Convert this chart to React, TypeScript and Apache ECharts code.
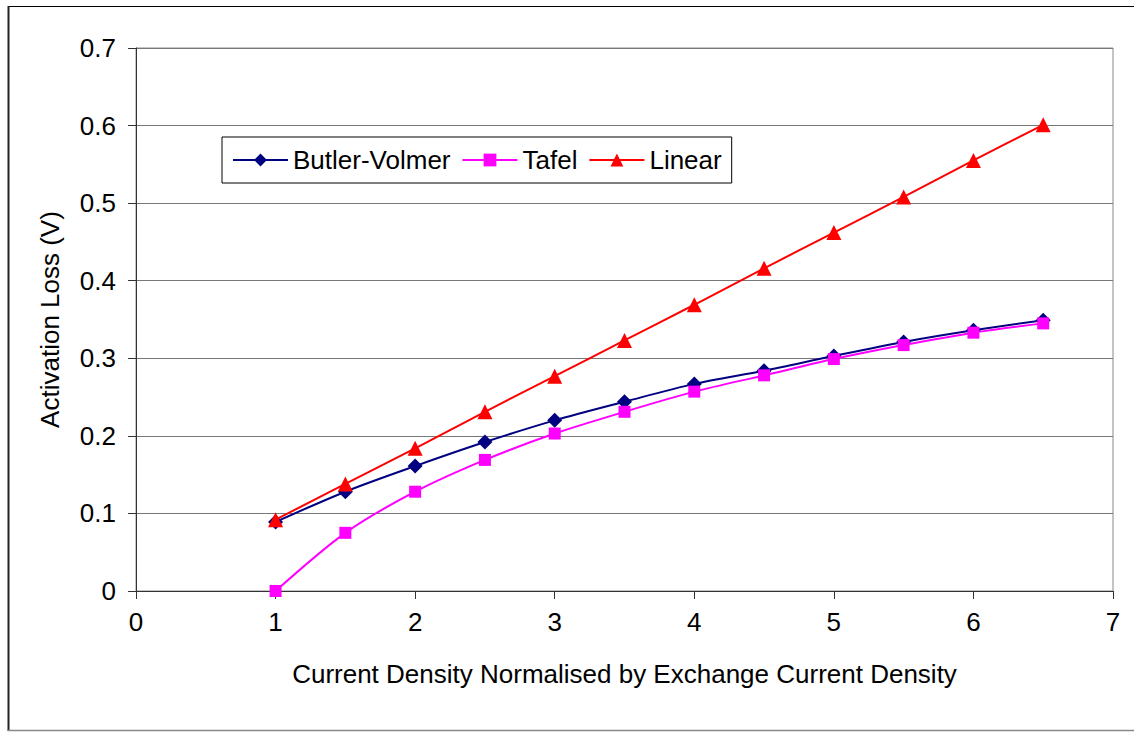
import React, { useEffect, useRef } from "react";
import * as echarts from "echarts";

const xValues = [1, 1.5, 2, 2.5, 3, 3.5, 4, 4.5, 5, 5.5, 6, 6.5];
const butlerVolmer = [0.089, 0.128, 0.161, 0.192, 0.220, 0.244, 0.267, 0.284, 0.303, 0.321, 0.336, 0.349];
const tafel = [0.0, 0.075, 0.128, 0.169, 0.203, 0.231, 0.257, 0.278, 0.299, 0.317, 0.333, 0.345];
const linear = [0.092, 0.138, 0.184, 0.231, 0.277, 0.323, 0.369, 0.416, 0.462, 0.508, 0.555, 0.601];

const seriesNames = ["Butler-Volmer", "Tafel", "Linear"];
const xAxisTitle = "Current Density Normalised by Exchange Current Density";
const yAxisTitle = "Activation Loss (V)";

const FONT = "'Liberation Sans', Arial, sans-serif";
const FS = 26;

export default function App() {
  const ref = useRef<HTMLDivElement>(null);
  useEffect(() => {
    if (!ref.current) return;
    const chart = echarts.init(ref.current, undefined, { renderer: "svg" });
    const pts = (ys: number[]) => xValues.map((x, i) => [x, ys[i]]);
    chart.setOption({
      animation: false,
      backgroundColor: "#ffffff",
      textStyle: { fontFamily: FONT },
      grid: {
        left: 136,
        right: 21,
        top: 48,
        bottom: 141,
        show: true,
        borderColor: "#8a8a8a",
        borderWidth: 1,
      },
      legend: {
        left: 222,
        top: 137,
        orient: "horizontal",
        itemWidth: 55,
        itemHeight: 16,
        itemGap: 11,
        padding: [10, 10, 10, 10],
        borderColor: "#000",
        borderWidth: 1,
        textStyle: { fontFamily: FONT, fontSize: FS, color: "#000" },
        data: seriesNames,
      },
      xAxis: {
        type: "value",
        min: 0,
        max: 7,
        interval: 1,
        name: xAxisTitle,
        nameLocation: "middle",
        nameGap: 70,
        nameTextStyle: { fontFamily: FONT, fontSize: FS, color: "#000" },
        axisLine: { show: true, lineStyle: { color: "#333", width: 1 } },
        axisTick: { show: true, inside: false, length: 8, lineStyle: { color: "#333" } },
        axisLabel: { fontFamily: FONT, fontSize: FS, color: "#000", margin: 18 },
        splitLine: { show: false },
      },
      yAxis: {
        type: "value",
        min: 0,
        max: 0.7,
        interval: 0.1,
        name: yAxisTitle,
        nameLocation: "middle",
        nameGap: 73,
        nameTextStyle: { fontFamily: FONT, fontSize: FS, color: "#000" },
        axisLine: { show: true, lineStyle: { color: "#333", width: 1 } },
        axisTick: { show: true, inside: false, length: 8, lineStyle: { color: "#333" } },
        axisLabel: { fontFamily: FONT, fontSize: FS, color: "#000", margin: 20 },
        splitLine: { show: true, lineStyle: { color: "#777", width: 1 } },
      },
      series: [
        {
          name: seriesNames[0],
          type: "line",
          data: pts(butlerVolmer),
          smooth: 0.3,
          symbol: "diamond",
          symbolSize: 15,
          itemStyle: { color: "#000080" },
          lineStyle: { color: "#000080", width: 2 },
          z: 3,
        },
        {
          name: seriesNames[1],
          type: "line",
          data: pts(tafel),
          smooth: 0.3,
          symbol: "rect",
          symbolSize: 12,
          itemStyle: { color: "#ff00ff" },
          lineStyle: { color: "#ff00ff", width: 2 },
          z: 4,
        },
        {
          name: seriesNames[2],
          type: "line",
          data: pts(linear),
          smooth: 0.3,
          symbol: "triangle",
          symbolSize: 15,
          itemStyle: { color: "#ff0000" },
          lineStyle: { color: "#ff0000", width: 2 },
          z: 5,
        },
      ],
      graphic: [
        { type: "line", shape: { x1: 8, y1: 6.5, x2: 1134, y2: 6.5 }, style: { stroke: "#000", lineWidth: 1 } },
        { type: "line", shape: { x1: 8.5, y1: 6, x2: 8.5, y2: 731 }, style: { stroke: "#222", lineWidth: 2 } },
        { type: "line", shape: { x1: 8, y1: 730.5, x2: 1134, y2: 730.5 }, style: { stroke: "#888", lineWidth: 1.5 } },
      ],
    });
    return () => chart.dispose();
  }, []);
  return (
    <div
      ref={ref}
      style={{ position: "fixed", left: 0, top: 0, width: 1134, height: 732 }}
    />
  );
}
